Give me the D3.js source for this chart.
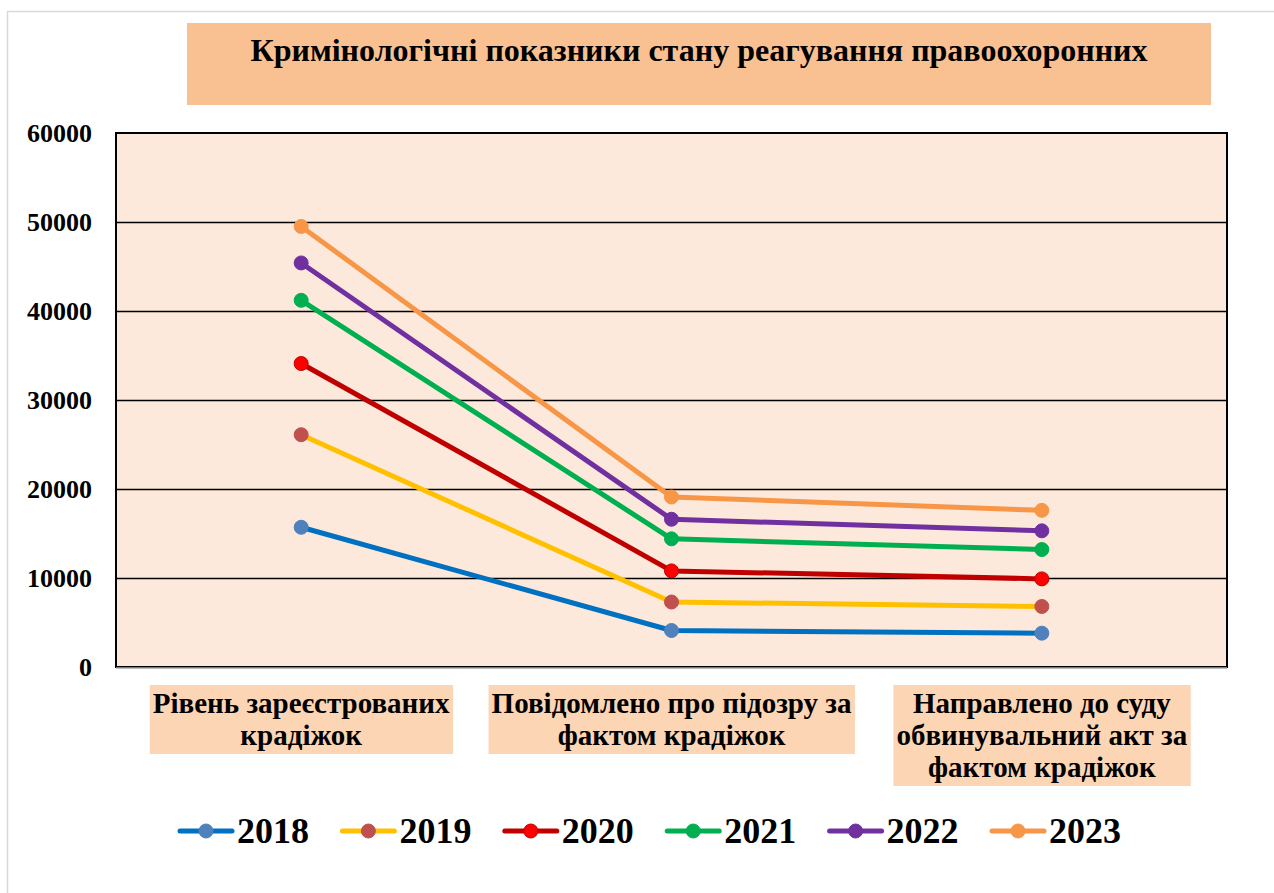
<!DOCTYPE html>
<html>
<head>
<meta charset="utf-8">
<script src="https://cdn.jsdelivr.net/npm/d3@7"></script>
<style>
  html, body { margin: 0; padding: 0; background: #fff; }
  svg text { font-family: "Liberation Serif", "Times New Roman", serif; font-weight: bold; }
</style>
</head>
<body>
<div id="chart"></div>
<script>
const title = "Кримінологічні показники стану реагування правоохоронних";
const categories = [
  ["Рівень зареєстрованих", "крадіжок"],
  ["Повідомлено про підозру за", "фактом крадіжок"],
  ["Направлено до суду", "обвинувальний акт за", "фактом крадіжок"],
];
const years = ["2018", "2019", "2020", "2021", "2022", "2023"];
const values2018 = [15700, 4100, 3800];
const values2019 = [26100, 7300, 6800];
const values2020 = [34100, 10800, 9900];
const values2021 = [41200, 14400, 13200];
const values2022 = [45400, 16600, 15300];
const values2023 = [49500, 19100, 17600];
const yTicks = [0, 10000, 20000, 30000, 40000, 50000, 60000];

const lineColors = ["#0070c0", "#ffc000", "#c00000", "#00b050", "#7030a0", "#f79646"];
const markerColors = ["#4f81bd", "#c0504d", "#ff0000", "#00b050", "#7030a0", "#f79646"];

const series = years.map((year, i) => ({
  year: year,
  values: [values2018, values2019, values2020, values2021, values2022, values2023][i],
  line: lineColors[i],
  marker: markerColors[i],
}));

const width = 1274;
const height = 893;
const plot = { left: 116, right: 1227, top: 133, bottom: 667 };

const svg = d3.select("#chart")
  .append("svg")
  .attr("width", width)
  .attr("height", height);

// outer frame
svg.append("rect")
  .attr("x", 7.5).attr("y", 11.5)
  .attr("width", width).attr("height", height)
  .attr("fill", "#fff")
  .attr("stroke", "#d9d9d9")
  .attr("stroke-width", 1.5);

// title box
svg.append("rect")
  .attr("x", 187).attr("y", 23)
  .attr("width", 1024).attr("height", 82)
  .attr("fill", "#f9c191");
svg.append("text")
  .attr("x", 699).attr("y", 61)
  .attr("text-anchor", "middle")
  .style("font-size", "32px")
  .text(title);

const x = d3.scaleBand()
  .domain(d3.range(categories.length))
  .range([plot.left, plot.right]);

const y = d3.scaleLinear()
  .domain([0, 60000])
  .range([plot.bottom, plot.top]);

// plot area
svg.append("rect")
  .attr("x", plot.left).attr("y", plot.top)
  .attr("width", plot.right - plot.left)
  .attr("height", plot.bottom - plot.top)
  .attr("fill", "#fde9db")
  .attr("stroke", "#000")
  .attr("stroke-width", 2);

// gridlines
svg.append("g")
  .attr("transform", `translate(${plot.left}, 0)`)
  .call(d3.axisLeft(y).tickValues(yTicks.slice(1, -1)).tickSize(-(plot.right - plot.left)).tickFormat(""))
  .call((g) => g.select(".domain").remove())
  .call((g) => g.selectAll("line").attr("stroke", "#000").attr("stroke-width", 1.5));

// y labels
svg.append("g")
  .attr("transform", `translate(${plot.left}, 0)`)
  .call(d3.axisLeft(y).tickValues(yTicks).tickSize(0).tickPadding(24).tickFormat(d3.format("d")))
  .call((g) => g.select(".domain").remove())
  .call((g) => g.selectAll("text")
    .attr("fill", "#000")
    .style("font-size", "26px")
    .style("font-family", "'Liberation Serif', 'Times New Roman', serif")
    .style("font-weight", "bold"));

// x axis line
svg.append("line")
  .attr("x1", plot.left).attr("x2", plot.right)
  .attr("y1", plot.bottom + 1).attr("y2", plot.bottom + 1)
  .attr("stroke", "#a6a6a6")
  .attr("stroke-width", 1.5);

// category labels
const lineHeight = 32;
const catGroups = svg.append("g")
  .selectAll("g")
  .data(categories)
  .join("g")
  .attr("transform", (d, i) => `translate(${x(i) + x.bandwidth() / 2}, 713)`);
catGroups.append("rect");
catGroups.append("text")
  .attr("text-anchor", "middle")
  .style("font-size", "29px")
  .selectAll("tspan")
  .data((d) => d)
  .join("tspan")
  .attr("x", 0)
  .attr("y", (d, i) => i * lineHeight)
  .text((d) => d);
catGroups.each(function () {
  const g = d3.select(this);
  const box = g.select("text").node().getBBox();
  g.select("rect")
    .attr("x", box.x - 3)
    .attr("y", -28)
    .attr("width", box.width + 6)
    .attr("height", g.datum().length * lineHeight + 5)
    .attr("fill", "#fcd5b4");
});

// lines
const line = d3.line()
  .x((d, i) => x(i) + x.bandwidth() / 2)
  .y((d) => y(d));

const seriesGroups = svg.append("g")
  .selectAll("g")
  .data(series)
  .join("g");
seriesGroups.append("path")
  .attr("d", (d) => line(d.values))
  .attr("fill", "none")
  .attr("stroke", (d) => d.line)
  .attr("stroke-width", 5)
  .attr("stroke-linejoin", "round");
seriesGroups.selectAll("circle")
  .data((d) => d.values.map((v) => ({ v: v, s: d })))
  .join("circle")
  .attr("cx", (d, i) => x(i) + x.bandwidth() / 2)
  .attr("cy", (d) => y(d.v))
  .attr("r", 7)
  .attr("fill", (d) => d.s.marker)
  .attr("stroke", (d) => d.s.year === "2020" ? "#c00000" : d.s.marker)
  .attr("stroke-width", 1);

// legend
const legend = svg.append("g")
  .selectAll("g")
  .data(series)
  .join("g")
  .attr("transform", (d, i) => `translate(${180 + i * 162.4}, 831)`);
legend.append("line")
  .attr("x1", 0).attr("x2", 52)
  .attr("stroke", (d) => d.line)
  .attr("stroke-width", 5)
  .attr("stroke-linecap", "round");
legend.append("circle")
  .attr("cx", 26)
  .attr("r", 7)
  .attr("fill", (d) => d.marker)
  .attr("stroke", (d) => d.year === "2020" ? "#c00000" : d.marker);
legend.append("text")
  .attr("x", 57)
  .attr("y", 12)
  .style("font-size", "36px")
  .text((d) => d.year);
</script>
</body>
</html>
